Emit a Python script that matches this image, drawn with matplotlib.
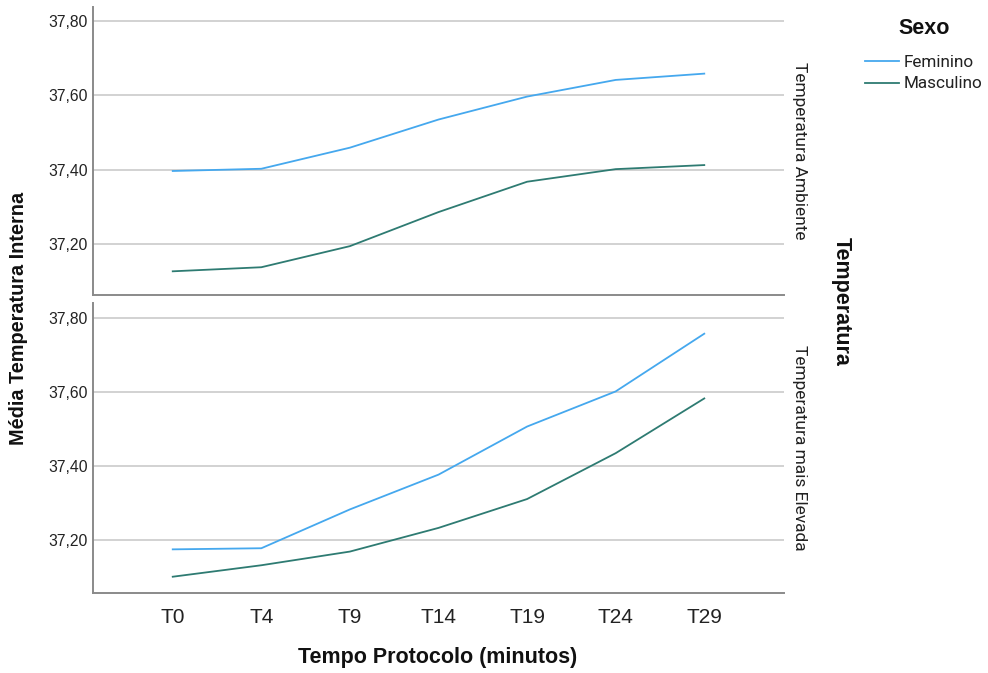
import matplotlib
matplotlib.use("Agg")
import matplotlib.pyplot as plt
from matplotlib.lines import Line2D

# ---- data ----
categories = ["T0", "T4", "T9", "T14", "T19", "T24", "T29"]
panels = ["Temperatura Ambiente", "Temperatura mais Elevada"]
sexes = ["Feminino", "Masculino"]
amb_fem = [37.396, 37.402, 37.459, 37.535, 37.597, 37.642, 37.659]
amb_masc = [37.125, 37.136, 37.193, 37.285, 37.367, 37.401, 37.412]
elev_fem = [37.175, 37.178, 37.283, 37.377, 37.507, 37.602, 37.758]
elev_masc = [37.101, 37.132, 37.169, 37.233, 37.311, 37.435, 37.583]
yticks = [37.20, 37.40, 37.60, 37.80]
ytick_labels = ["37,20", "37,40", "37,60", "37,80"]

colors = {"Feminino": "#45a8ee", "Masculino": "#2e7b72"}
arial = ["Liberation Sans", "DejaVu Sans"]
roboto = ["Roboto", "DejaVu Sans"]
W, H = 988, 673
fig = plt.figure(figsize=(W / 100, H / 100), dpi=100)

def ax_rect(left, top, right, bottom):
    return [left / W, 1 - bottom / H, (right - left) / W, (bottom - top) / H]

ax1 = fig.add_axes(ax_rect(93, 7, 784, 295))
ax2 = fig.add_axes(ax_rect(93, 303, 784, 593))
data = [(ax1, amb_fem, amb_masc, (37.061, 37.839)),
        (ax2, elev_fem, elev_masc, (37.057, 37.841))]
x = list(range(len(categories)))
for (ax, fem, masc, ylim), name in zip(data, panels):
    ax.plot(x, fem, color=colors["Feminino"], lw=1.3, zorder=3)
    ax.plot(x, masc, color=colors["Masculino"], lw=1.3, zorder=3)
    ax.set_xlim(-0.9, len(categories) - 1 + 0.9)
    ax.set_ylim(*ylim)
    ax.set_yticks(yticks)
    ax.set_yticklabels(ytick_labels, family=arial, fontsize=11.3, color="#222222")
    ax.grid(axis="y", color="#d2d2d2", lw=1.4, zorder=0)
    ax.set_axisbelow(True)
    for s in ["top", "right"]:
        ax.spines[s].set_visible(False)
    for s in ["left", "bottom"]:
        ax.spines[s].set_color("#8a8a8a")
        ax.spines[s].set_linewidth(1.4)
    ax.tick_params(axis="y", length=0, pad=3.5)
    ax.tick_params(axis="x", length=0)
    ax.set_xticks(x)
    ax.text(1.012, 0.5, name, transform=ax.transAxes, rotation=-90,
            ha="left", va="center", fontsize=12.5, color="#222222", family=roboto)

ax1.set_xticklabels([])
ax2.set_xticklabels(categories, family=arial, fontsize=15, color="#222222")
ax2.tick_params(axis="x", pad=10.5)

fig.text(438 / W, 1 - 658 / H, "Tempo Protocolo (minutos)", ha="center", va="center",
         fontsize=15.5, fontweight="bold", family=arial, color="#111111")
fig.text(19 / W, 1 - 318 / H, "Média Temperatura Interna", ha="center", va="center",
         rotation=90, fontsize=14.3, fontweight="bold", family=arial, color="#111111")
fig.text(841 / W, 1 - 301 / H, "Temperatura", ha="center", va="center",
         rotation=-90, fontsize=15.5, fontweight="bold", family=arial, color="#111111")
fig.text(924 / W, 1 - 28 / H, "Sexo", ha="center", va="center",
         fontsize=15.5, fontweight="bold", family=arial, color="#111111")
handles = [Line2D([0], [0], color=colors[s], lw=1.3) for s in sexes]
leg = fig.legend(handles, sexes, loc="upper left", bbox_to_anchor=(865 / W, 1 - 55 / H),
                 frameon=False, handlelength=2.0, handletextpad=0.25, labelspacing=0.38,
                 prop={"family": roboto, "size": 12.3}, borderaxespad=0, borderpad=0)
for t in leg.get_texts():
    t.set_color("#222222")

fig.savefig("out.png", dpi=100)
